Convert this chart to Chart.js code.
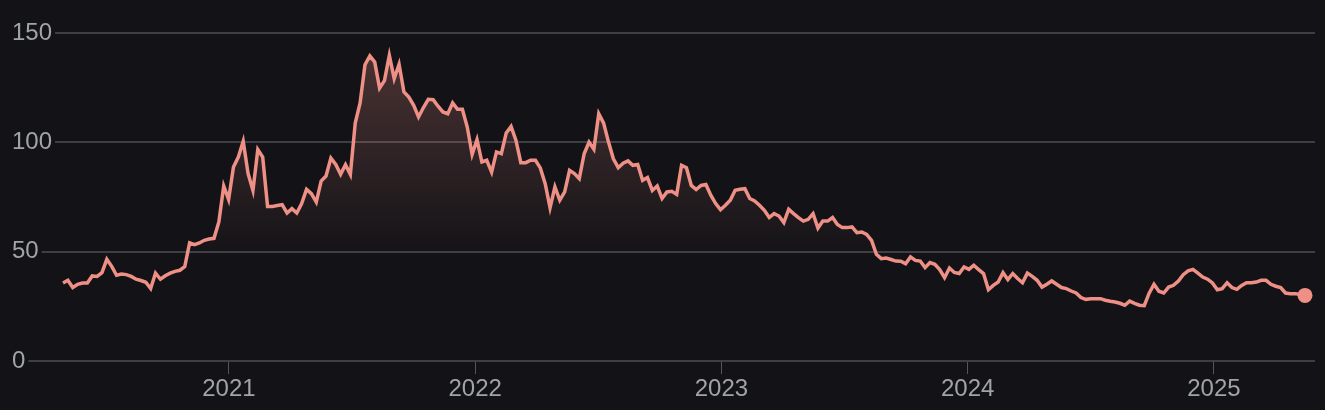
<!DOCTYPE html>
<html>
<head>
<meta charset="utf-8">
<script src="https://cdn.jsdelivr.net/npm/chart.js@4.4.1/dist/chart.umd.min.js"></script>
<style>
  html, body { margin: 0; background: #131317; }
  canvas { display: block; }
</style>
</head>
<body>
<canvas id="chart" width="1325" height="410"></canvas>
<script>
// x range in decimal years (first and last sample)
const X_START = 2020.326;
const X_END = 2025.37;
const YEAR_TICKS = [2021, 2022, 2023, 2024, 2025];
const Y_TICKS = [0, 50, 100, 150];

// values, evenly spaced between X_START and X_END
const values = [
  35.7, 36.9, 33.6, 35.1, 35.7, 35.7, 38.9, 38.7, 40.4, 46.5,
  43.3, 39.2, 39.8, 39.5, 38.7, 37.4, 36.8, 36.0, 33.1, 40.2,
  37.4, 39.0, 40.2, 41.0, 41.5, 43.2, 54.0, 53.2, 54.0, 55.2,
  55.8, 56.1, 63.6, 80.0, 73.9, 88.7, 93.3, 100.5, 85.7, 78.0,
  96.7, 93.3, 70.7, 70.7, 71.1, 71.5, 67.7, 69.7, 67.7, 72.0,
  78.5, 76.5, 72.7, 82.3, 84.6, 92.8, 89.9, 85.4, 89.8, 85.3,
  108.8, 118.0, 135.5, 139.5, 136.7, 124.8, 128.2, 139.8, 129.1, 135.7,
  123.0, 120.7, 116.9, 111.6, 115.9, 119.7, 119.5, 116.5, 113.9, 113.1,
  118.0, 115.1, 115.1, 107.0, 94.5, 101.2, 91.0, 91.8, 86.4, 95.6,
  94.8, 104.3, 107.3, 100.9, 90.7, 90.7, 91.8, 91.8, 88.3, 81.1,
  70.1, 79.6, 73.5, 77.3, 87.2, 85.7, 83.4, 94.8, 100.1, 96.8,
  113.1, 108.8, 100.1, 92.5, 88.4, 90.5, 91.5, 89.5, 89.9, 82.6,
  83.9, 78.0, 80.0, 74.3, 77.3, 77.6, 76.2, 89.5, 88.4, 80.3,
  78.4, 80.3, 80.7, 75.8, 72.0, 69.2, 71.2, 73.5, 78.1, 78.5,
  78.8, 74.3, 73.2, 71.2, 68.9, 65.6, 67.4, 66.3, 63.3, 69.4,
  67.4, 65.6, 64.0, 64.8, 67.4, 60.8, 64.0, 64.0, 65.6, 62.4,
  61.0, 61.0, 61.3, 58.7, 59.0, 57.9, 55.2, 48.8, 46.8, 47.1,
  46.4, 45.7, 45.6, 44.5, 47.6, 46.0, 45.7, 42.7, 45.0, 44.2,
  41.8, 38.1, 42.5, 40.5, 40.0, 43.0, 41.9, 43.8, 41.8, 40.0,
  32.6, 34.6, 36.1, 40.4, 37.2, 40.0, 37.7, 35.8, 40.2, 38.7,
  36.9, 33.8, 35.1, 36.6, 35.1, 33.6, 33.1, 32.0, 31.1, 29.0,
  28.2, 28.5, 28.5, 28.5, 27.8, 27.3, 27.0, 26.4, 25.5, 27.4,
  26.4, 25.5, 25.3, 31.0, 35.1, 31.9, 31.1, 33.8, 34.6, 36.6,
  39.5, 41.2, 41.9, 40.2, 38.4, 37.4, 35.7, 32.6, 33.1, 35.8,
  33.6, 32.8, 34.6, 35.8, 35.8, 36.1, 36.9, 36.9, 35.1, 34.2,
  33.6, 31.1, 30.8, 30.8, 30.4, 30.0
];

const LINE = '#ee9086';
const GRID = '#3e3f44';
const TEXT = '#a0a4a9';
const FONT = { family: '"Liberation Sans", Helvetica, Arial, sans-serif', size: 24 };

const points = values.map((v, i) => ({
  x: X_START + i * (X_END - X_START) / (values.length - 1),
  y: v
}));
const last = points.length - 1;

// horizontal grid lines that start right after each y label
const gridLines = {
  id: 'gridLines',
  beforeDatasetsDraw(chart) {
    const { ctx, chartArea, scales: { y } } = chart;
    ctx.save();
    ctx.font = `${FONT.size}px ${FONT.family}`;
    ctx.strokeStyle = GRID;
    ctx.lineWidth = 2;
    y.ticks.forEach(t => {
      const py = Math.round(y.getPixelForValue(t.value));
      const w = ctx.measureText(String(t.value)).width;
      ctx.beginPath();
      ctx.moveTo(y.left + w + 3, py);
      ctx.lineTo(chartArea.right + 10, py);
      ctx.stroke();
    });
    ctx.restore();
  }
};

new Chart(document.getElementById('chart'), {
  type: 'line',
  data: {
    datasets: [{
      data: points,
      borderColor: LINE,
      borderWidth: 3.5,
      tension: 0,
      fill: 'origin',
      clip: false,
      backgroundColor: c => {
        const { chartArea, scales } = c.chart;
        if (!chartArea) return 'transparent';
        // fades out around the 50 line
        const g = c.chart.ctx.createLinearGradient(0, chartArea.top, 0, scales.y.getPixelForValue(46));
        g.addColorStop(0, 'rgba(238,144,134,0.28)');
        g.addColorStop(1, 'rgba(238,144,134,0)');
        return g;
      },
      pointRadius: c => c.dataIndex === last ? 7.5 : 0,
      pointHoverRadius: 0,
      pointBackgroundColor: LINE,
      pointBorderWidth: 0
    }]
  },
  options: {
    responsive: false,
    animation: false,
    layout: { padding: { left: 12, right: 20, top: 33, bottom: 0 } },
    plugins: { legend: { display: false }, tooltip: { enabled: false } },
    scales: {
      x: {
        type: 'linear',
        min: X_START,
        max: X_END,
        afterBuildTicks: s => { s.ticks = YEAR_TICKS.map(v => ({ value: v })); },
        afterFit: s => { s.height = 49; },
        ticks: { color: TEXT, font: FONT, padding: 1, maxRotation: 0, autoSkip: false, callback: v => String(v) },
        grid: { drawOnChartArea: false, tickLength: 13, color: '#55565b', lineWidth: 1 },
        border: { display: false }
      },
      y: {
        min: 0,
        max: 150,
        afterBuildTicks: s => { s.ticks = Y_TICKS.map(v => ({ value: v })); },
        afterFit: s => { s.width = 51; },
        ticks: { color: TEXT, font: FONT, padding: 0, crossAlign: 'far' },
        grid: { display: false },
        border: { display: false }
      }
    }
  },
  plugins: [gridLines]
});
</script>
</body>
</html>
